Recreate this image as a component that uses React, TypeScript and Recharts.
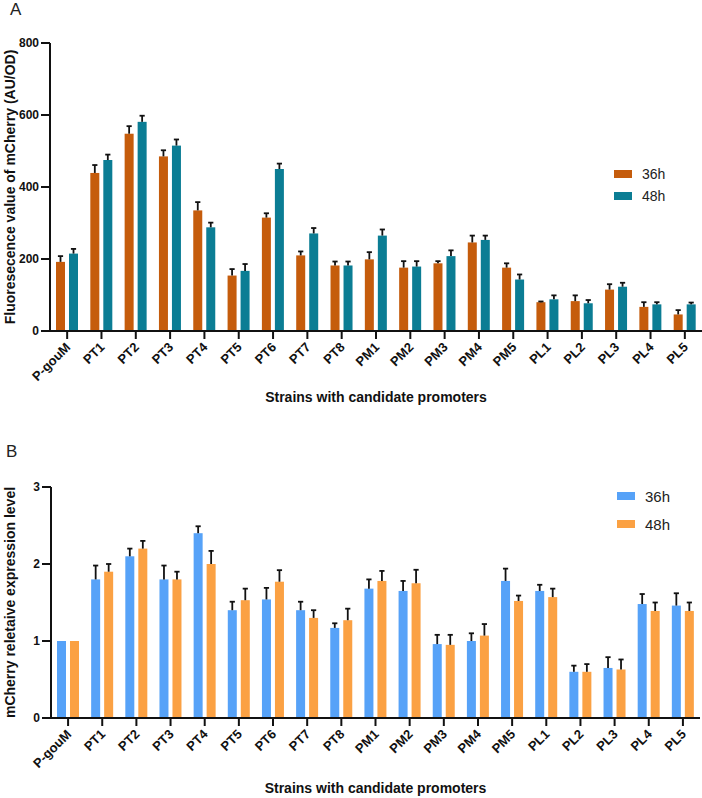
import { BarChart, Bar, XAxis, YAxis, Legend } from "recharts";

const strains = [
  "P-gouM", "PT1", "PT2", "PT3", "PT4", "PT5", "PT6", "PT7", "PT8",
  "PM1", "PM2", "PM3", "PM4", "PM5", "PL1", "PL2", "PL3", "PL4", "PL5",
];

// panel A: fluorescence (AU/OD), mean and upper SD
const fluo36 = [192, 439, 548, 485, 335, 154, 315, 210, 182, 199, 176, 188, 246, 176, 80, 83, 115, 67, 46];
const fluo36Err = [16, 22, 21, 17, 23, 18, 12, 11, 11, 20, 18, 6, 19, 12, 2, 16, 15, 13, 12];
const fluo48 = [215, 475, 581, 515, 288, 167, 450, 271, 182, 265, 179, 208, 253, 143, 88, 77, 123, 74, 74];
const fluo48Err = [13, 15, 17, 17, 13, 19, 15, 15, 11, 17, 15, 16, 12, 14, 11, 9, 11, 6, 5];

// panel B: relative expression vs P-gouM
const rel36 = [1.0, 1.8, 2.1, 1.8, 2.4, 1.4, 1.54, 1.4, 1.17, 1.68, 1.65, 0.96, 1.0, 1.78, 1.65, 0.6, 0.65, 1.48, 1.46];
const rel36Err = [0, 0.18, 0.1, 0.18, 0.09, 0.11, 0.15, 0.11, 0.06, 0.12, 0.13, 0.12, 0.1, 0.16, 0.08, 0.08, 0.14, 0.13, 0.16];
const rel48 = [1.0, 1.9, 2.2, 1.8, 2.0, 1.53, 1.77, 1.3, 1.27, 1.78, 1.75, 0.95, 1.07, 1.52, 1.57, 0.6, 0.63, 1.39, 1.39];
const rel48Err = [0, 0.1, 0.1, 0.1, 0.17, 0.15, 0.15, 0.1, 0.15, 0.13, 0.175, 0.13, 0.15, 0.07, 0.11, 0.1, 0.13, 0.11, 0.11];

const fluoTicks = [0, 200, 400, 600, 800];
const relTicks = [0, 1, 2, 3];

const fluoData = strains.map((strain, i) => ({
  strain, h36: fluo36[i], h36e: fluo36Err[i], h48: fluo48[i], h48e: fluo48Err[i],
}));
const relData = strains.map((strain, i) => ({
  strain, h36: rel36[i], h36e: rel36Err[i], h48: rel48[i], h48e: rel48Err[i],
}));

const font = "'Liberation Sans', Arial, sans-serif";
const ink = "#111";

// bar with a one-sided (upper) error whisker, scaled from the bar's own pixel height
const barWithError = (valKey: string, errKey: string) => (props: any) => {
  const { x, y, width, height, fill, payload } = props;
  const v = payload[valKey];
  const e = payload[errKey];
  const perUnit = v ? height / v : 0;
  const top = y - e * perUnit;
  const cx = x + width / 2;
  return (
    <g>
      <rect x={x} y={y} width={width} height={height} fill={fill} />
      {e > 0 && (
        <g stroke={ink} strokeWidth={1.8}>
          <line x1={cx} x2={cx} y1={y} y2={top} />
          <line x1={cx - 2.6} x2={cx + 2.6} y1={top} y2={top} />
        </g>
      )}
    </g>
  );
};

function StrainTick({ x, y, payload }: any) {
  return (
    <g transform={`translate(${x + 4},${y + 7}) rotate(-45)`}>
      <text textAnchor="end" fontSize={13} fontWeight={700} fill={ink} fontFamily={font}>
        {payload.value}
      </text>
    </g>
  );
}

const legendBox = (fontSize: number, rowH: number) => (props: any) => (
  <div style={{ fontFamily: font, fontSize, color: "#222" }}>
    {props.payload.map((p: any) => (
      <div key={p.value} style={{ display: "flex", alignItems: "center", height: rowH }}>
        <span style={{ width: 18, height: 8, background: p.color, marginRight: 10 }} />
        <span>{p.value}</span>
      </div>
    ))}
  </div>
);

const axisStroke = { stroke: ink, strokeWidth: 2 };
const yTick = { fontSize: 12, fontWeight: 700, fill: ink, fontFamily: font };
const titleStyle = { fontSize: 14, fontWeight: 700, fill: ink, fontFamily: font, textAnchor: "middle" as const };

export default function App() {
  return (
    <div style={{ position: "absolute", left: 0, top: 0, width: 702, height: 798, background: "#fff" }}>
      <div style={{ position: "absolute", left: 10, top: 0, fontFamily: font, fontSize: 17, color: "#222" }}>A</div>
      <div style={{ position: "absolute", left: 6, top: 442, fontFamily: font, fontSize: 17, color: "#222" }}>B</div>

      <div style={{ position: "absolute", left: 0, top: 0 }}>
        <BarChart width={702} height={410} data={fluoData} margin={{ top: 43, right: 0, bottom: 0, left: 0 }}
          barSize={9} barGap={4}>
          <XAxis dataKey="strain" interval={0} height={79} tickSize={8} tickMargin={2}
            axisLine={axisStroke} tickLine={axisStroke} tick={<StrainTick />}
            label={{ value: "Strains with candidate promoters", position: "insideBottom", offset: 8, style: titleStyle }} />
          <YAxis width={50} domain={[0, 800]} ticks={fluoTicks} tickSize={9} tickMargin={2}
            axisLine={axisStroke} tickLine={axisStroke} tick={yTick}
            label={{ value: "Fluoresecence value of mCherry (AU/OD)", angle: -90, position: "insideLeft", offset: 10, style: titleStyle }} />
          <Legend layout="vertical" align="center" verticalAlign="middle"
            wrapperStyle={{ left: 614, top: 163, width: 80 }} content={legendBox(14, 22)} />
          <Bar dataKey="h36" name="36h" fill="#c55c0c" isAnimationActive={false} shape={barWithError("h36", "h36e")} />
          <Bar dataKey="h48" name="48h" fill="#0b7d94" isAnimationActive={false} shape={barWithError("h48", "h48e")} />
        </BarChart>
      </div>

      <div style={{ position: "absolute", left: 0, top: 410 }}>
        <BarChart width={702} height={388} data={relData} margin={{ top: 77, right: 2, bottom: 0, left: 0 }}
          barSize={9} barGap={4}>
          <XAxis dataKey="strain" interval={0} height={80} tickSize={8} tickMargin={2}
            axisLine={axisStroke} tickLine={axisStroke} tick={<StrainTick />}
            label={{ value: "Strains with candidate promoters", position: "insideBottom", offset: 5, style: titleStyle }} />
          <YAxis width={51} domain={[0, 3]} ticks={relTicks} tickSize={9} tickMargin={2}
            axisLine={axisStroke} tickLine={axisStroke} tick={yTick}
            label={{ value: "mCherry reletaive expression level", angle: -90, position: "insideLeft", offset: 10, style: titleStyle }} />
          <Legend layout="vertical" align="center" verticalAlign="middle"
            wrapperStyle={{ left: 617, top: 72, width: 80 }} content={legendBox(15, 28)} />
          <Bar dataKey="h36" name="36h" fill="#56a2f8" isAnimationActive={false} shape={barWithError("h36", "h36e")} />
          <Bar dataKey="h48" name="48h" fill="#fba143" isAnimationActive={false} shape={barWithError("h48", "h48e")} />
        </BarChart>
      </div>
    </div>
  );
}
